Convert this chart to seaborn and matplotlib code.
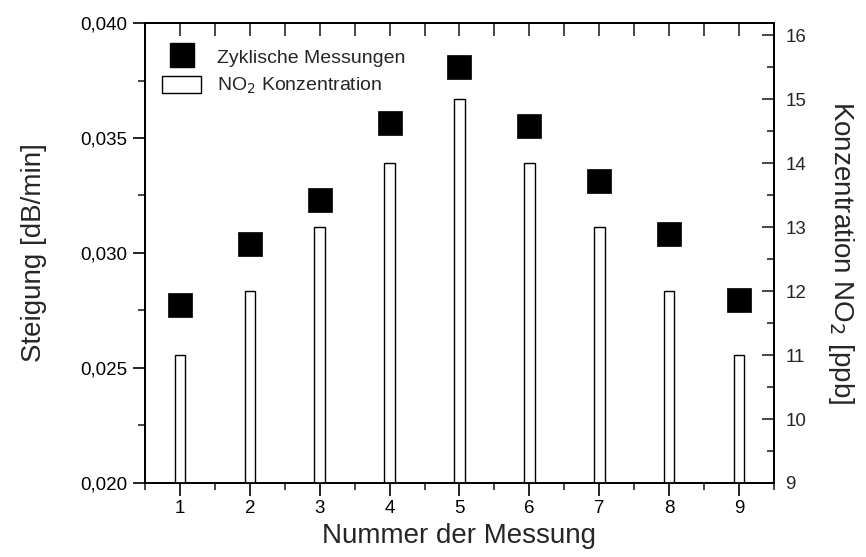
import matplotlib
matplotlib.use("Agg")
import matplotlib.pyplot as plt
import seaborn as sns
import pandas as pd
from matplotlib.ticker import MultipleLocator
from matplotlib.lines import Line2D
from matplotlib.patches import Patch

# Data
messung = [1, 2, 3, 4, 5, 6, 7, 8, 9]
steigung = [0.02774, 0.03038, 0.03230, 0.03564, 0.03807, 0.03552, 0.03314, 0.03081, 0.02796]
no2_ppb = [11, 12, 13, 14, 15, 14, 13, 12, 11]

left_ticks = [0.020, 0.025, 0.030, 0.035, 0.040]
left_ticklabels = ["0,020", "0,025", "0,030", "0,035", "0,040"]
right_ticks = [9, 10, 11, 12, 13, 14, 15, 16]

data = pd.DataFrame({"Messung": messung, "Steigung": steigung, "NO2": no2_ppb})

sns.set_style("ticks")
plt.rcParams["font.family"] = ["Liberation Sans", "DejaVu Sans"]

fig = plt.figure(figsize=(8.66, 5.57), dpi=100)
ax = fig.add_axes([0.1674, 0.1329, 0.7264, 0.8258])
ax2 = ax.twinx()

# Squares (left axis)
sns.scatterplot(
    data=data, x="Messung", y="Steigung", ax=ax,
    marker="s", s=300, color="black", edgecolor="black", linewidth=0.5,
    legend=False, zorder=3
)

# Bars (right axis)
sns.barplot(
    data=data, x="Messung", y="NO2", ax=ax2, native_scale=True,
    width=0.15, color="white", edgecolor="black", linewidth=1.0,
    errorbar=None
)

ax.set_xlim(0.5, 9.5)
ax.set_ylim(0.020, 0.040)
ax2.set_ylim(9, 16.19)
ax2.set_xlim(0.5, 9.5)

ax.set_xticks(messung)
ax.set_xticklabels([str(m) for m in messung])
ax.xaxis.set_minor_locator(MultipleLocator(0.5))
ax.set_yticks(left_ticks)
ax.set_yticklabels(left_ticklabels)
ax.yaxis.set_minor_locator(MultipleLocator(0.0025))

ax2.set_yticks(right_ticks)
ax2.set_yticklabels([str(t) for t in right_ticks])
ax2.yaxis.set_minor_locator(MultipleLocator(0.5))

ax.tick_params(axis="both", which="major", direction="out", length=9, width=1.2,
               labelsize=13.5, colors="black")
ax.tick_params(axis="both", which="minor", direction="out", length=5, width=1.2)
ax2.tick_params(axis="y", which="major", direction="in", length=9, width=1.2,
                labelsize=13.5, pad=8)
ax2.tick_params(axis="y", which="minor", direction="in", length=5, width=1.2)

top = ax.secondary_xaxis("top")
top.set_xticks(messung)
top.xaxis.set_minor_locator(MultipleLocator(0.5))
top.tick_params(which="both", direction="in", length=9, width=1.2, labeltop=False)
top.set_xticklabels([])

for a in (ax, ax2):
    for sp in a.spines.values():
        sp.set_linewidth(1.3)
        sp.set_color("black")
top.spines["top"].set_linewidth(1.3)

ax.set_xlabel("Nummer der Messung", fontsize=20, labelpad=4)
ax.set_ylabel("Steigung [dB/min]", fontsize=20, labelpad=24)
ax2.set_ylabel("Konzentration NO$_2$ [ppb]", fontsize=20, rotation=270, labelpad=36)

handles = [
    Line2D([], [], marker="s", linestyle="none", markersize=17,
           markerfacecolor="black", markeredgecolor="black"),
    Patch(facecolor="white", edgecolor="black", linewidth=1.0),
]
ax.legend(handles, ["Zyklische Messungen", "NO$_2$ Konzentration"],
          loc="upper left", frameon=False, fontsize=14,
          bbox_to_anchor=(0.0, 0.985), handlelength=2.0, handleheight=1.0,
          handletextpad=0.8, labelspacing=0.45)

fig.savefig("out.png", dpi=100)
